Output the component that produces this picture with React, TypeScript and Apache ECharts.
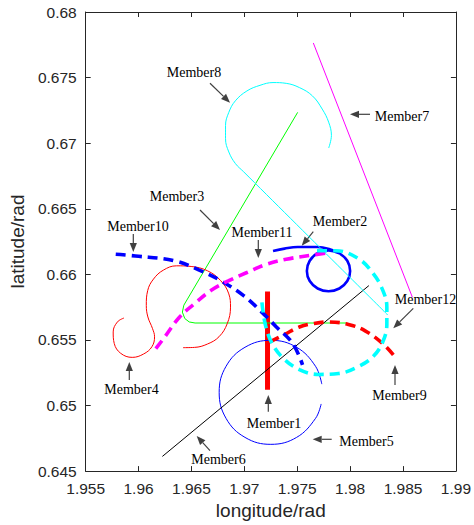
import React, { useEffect, useRef } from "react";
import * as echarts from "echarts";

// ---------- axis ticks ----------
const xTickLabels = ["1.955", "1.96", "1.965", "1.97", "1.975", "1.98", "1.985", "1.99"];
const yTickLabels = ["0.645", "0.65", "0.655", "0.66", "0.665", "0.67", "0.675", "0.68"];

// ---------- trajectories (longitude, latitude) ----------
const member1 = [[1.97219, 0.65869], [1.97219, 0.65121]];

const member2 = [
  [1.97271, 0.66178], [1.9738, 0.66196], [1.97504, 0.66208], [1.9769, 0.66208], [1.97814, 0.6619],
  [1.97898, 0.66161], [1.97973, 0.66104], [1.98, 0.66026], [1.97973, 0.65949], [1.97898, 0.65892],
  [1.97796, 0.65871], [1.97693, 0.65892], [1.97618, 0.65949], [1.97591, 0.66026], [1.97618, 0.66104],
  [1.97693, 0.66161], [1.97796, 0.66182], [1.97898, 0.66161],
];

const member3 = [
  [1.97504, 0.67235], [1.96428, 0.65765], [1.96414, 0.65712], [1.96437, 0.65663],
  [1.96479, 0.65637], [1.96534, 0.65629], [1.97966, 0.65629],
];

const member4 = [
  [1.95862, 0.65667], [1.958, 0.65637], [1.9576, 0.65561], [1.9577, 0.65473], [1.95831, 0.65398],
  [1.9594, 0.65367], [1.96048, 0.65393], [1.96126, 0.65448], [1.96151, 0.65524], [1.96132, 0.65586],
  [1.96088, 0.65675], [1.96073, 0.65763], [1.96086, 0.65876], [1.96141, 0.65964], [1.96234, 0.66032],
  [1.96358, 0.66065], [1.96497, 0.6606], [1.96652, 0.66027], [1.96776, 0.65952], [1.96853, 0.65851],
  [1.96869, 0.6575], [1.96838, 0.65624], [1.9676, 0.65524], [1.96652, 0.65469], [1.96528, 0.65443],
  [1.9642, 0.65441],
];

const member5 = [
  [1.97732, 0.65163], [1.97673, 0.65299], [1.97494, 0.65444], [1.9725, 0.65497], [1.97006, 0.65444],
  [1.96827, 0.65299], [1.96762, 0.65101], [1.96827, 0.64902], [1.97006, 0.64757], [1.9725, 0.64704],
  [1.97494, 0.64757], [1.97673, 0.64902], [1.97726, 0.65012],
];

const member6 = [[1.96225, 0.64612], [1.98177, 0.65914]];

const member7 = [[1.97652, 0.67764], [1.98588, 0.65826]];

const member8 = [
  [1.97797, 0.66963], [1.97823, 0.67059], [1.97797, 0.6716], [1.97736, 0.6726], [1.97643, 0.67361],
  [1.9752, 0.67424], [1.97396, 0.67456], [1.97271, 0.67462], [1.97148, 0.67441], [1.97024, 0.67398],
  [1.96915, 0.67323], [1.96853, 0.67235], [1.96822, 0.67134], [1.96822, 0.67034], [1.96853, 0.66933],
  [1.96915, 0.66845], [1.96993, 0.66782], [1.98356, 0.6569],
];

const member9 = [
  [1.97241, 0.65486], [1.9738, 0.65542], [1.9752, 0.65599], [1.97659, 0.65626], [1.97797, 0.65637],
  [1.97984, 0.65618], [1.98142, 0.65569], [1.98309, 0.65471], [1.98421, 0.65373],
];

const member10 = [
  [1.95784, 0.66153], [1.9597, 0.6614], [1.96342, 0.66103], [1.9659, 0.66027], [1.96776, 0.65952],
  [1.96993, 0.65838], [1.97148, 0.65725], [1.97303, 0.65599], [1.97457, 0.65473], [1.9755, 0.6531],
];

const member11 = [
  [1.96163, 0.65433], [1.96249, 0.65524], [1.96388, 0.65675], [1.96528, 0.65775], [1.96683, 0.65876],
  [1.96853, 0.65952], [1.97024, 0.66014], [1.9721, 0.66077], [1.97396, 0.66115], [1.97582, 0.6614],
  [1.9778, 0.66162],
];

const member12 = [
  [1.97687, 0.6618], [1.97863, 0.6618], [1.98077, 0.6612], [1.98217, 0.66007], [1.98309, 0.65878],
  [1.98347, 0.6575], [1.98347, 0.65622], [1.98309, 0.65486], [1.98217, 0.65373], [1.98077, 0.65297],
  [1.97891, 0.65244], [1.97705, 0.65237], [1.9752, 0.65274], [1.97362, 0.65365], [1.97259, 0.65478],
  [1.97204, 0.65599], [1.97176, 0.6572], [1.97166, 0.65788],
];

const memberNames = [
  "Member1", "Member2", "Member3", "Member4", "Member5", "Member6",
  "Member7", "Member8", "Member9", "Member10", "Member11", "Member12",
];

// ---------- annotation layout (pixels) ----------
const ANNOTATIONS = [
  { text: "Member8", tx: 194, ty: 72.5, a: [210, 83.3, 230, 102.7] },
  { text: "Member7", tx: 402, ty: 116, a: [370, 114.3, 350, 114.3] },
  { text: "Member3", tx: 177, ty: 196, a: [200, 210, 220, 230] },
  { text: "Member2", tx: 340, ty: 221.5, a: [313.3, 231.7, 301.7, 245.7] },
  { text: "Member10", tx: 138, ty: 226, a: [133.3, 234, 133.3, 252] },
  { text: "Member11", tx: 262, ty: 232, a: [258.3, 240, 258.3, 258] },
  { text: "Member12", tx: 425.5, ty: 299, a: [413.3, 308.3, 393.3, 328.3] },
  { text: "Member4", tx: 131.5, ty: 389.7, a: [129.3, 380, 129.3, 362] },
  { text: "Member1", tx: 274, ty: 423, a: [268.3, 411.7, 268.3, 395] },
  { text: "Member9", tx: 399.5, ty: 395.5, a: [395, 385, 395, 365] },
  { text: "Member5", tx: 366.5, ty: 441, a: [331.7, 439.3, 312.7, 439.3] },
  { text: "Member6", tx: 218.5, ty: 459.7, a: [210, 450.7, 196.7, 436] },
];

function arrowGraphic(x1: number, y1: number, x2: number, y2: number) {
  const dx = x2 - x1;
  const dy = y2 - y1;
  const len = Math.hypot(dx, dy);
  const ux = dx / len;
  const uy = dy / len;
  const hl = 9;
  const hw = 3.6;
  const bx = x2 - ux * hl;
  const by = y2 - uy * hl;
  return [
    {
      type: "line",
      shape: { x1, y1, x2: bx, y2: by },
      style: { stroke: "#404040", lineWidth: 1.2 },
      silent: true,
    },
    {
      type: "polygon",
      shape: { points: [[x2, y2], [bx - uy * hw, by + ux * hw], [bx + uy * hw, by - ux * hw]] },
      style: { fill: "#404040" },
      silent: true,
    },
  ];
}

const fmt = (labels: string[], min: number) => (v: number) => {
  const i = Math.round((v - min) / 0.005);
  return labels[i] ?? "";
};

export default function App() {
  const ref = useRef<HTMLDivElement>(null);

  useEffect(() => {
    if (!ref.current) return;
    const chart = echarts.init(ref.current, null, { renderer: "svg" });

    const thin = (name: string, data: number[][], color: string, smooth: number | boolean = false) => ({
      name,
      type: "line",
      data,
      symbol: "none",
      smooth,
      lineStyle: { color, width: 1 },
      silent: true,
    });
    const dashed = (name: string, data: number[][], color: string) => ({
      name,
      type: "line",
      data,
      symbol: "none",
      smooth: 0.4,
      lineStyle: { color, width: 3.6, type: [10, 6] },
      silent: true,
    });

    const series = [
      { name: memberNames[0], type: "line", data: member1, symbol: "none", lineStyle: { color: "#ff0000", width: 5 }, silent: true },
      { name: memberNames[1], type: "line", data: member2, symbol: "none", smooth: 0.4, lineStyle: { color: "#0000ff", width: 2.6 }, silent: true },
      thin(memberNames[2], member3, "#00ff00"),
      thin(memberNames[3], member4, "#ff0000", 0.4),
      thin(memberNames[4], member5, "#0000ff", 0.4),
      thin(memberNames[5], member6, "#000000"),
      thin(memberNames[6], member7, "#ff00ff"),
      thin(memberNames[7], member8, "#00ffff", 0.4),
      dashed(memberNames[8], member9, "#ff0000"),
      dashed(memberNames[9], member10, "#0000ff"),
      dashed(memberNames[10], member11, "#ff00ff"),
      dashed(memberNames[11], member12, "#00ffff"),
    ];

    const graphics: any[] = [];
    ANNOTATIONS.forEach((an) => {
      graphics.push(...arrowGraphic(an.a[0], an.a[1], an.a[2], an.a[3]));
      graphics.push({
        type: "text",
        x: an.tx,
        y: an.ty,
        silent: true,
        style: {
          text: an.text,
          fontSize: 14,
          fontFamily: '"Liberation Serif", "Times New Roman", serif',
          fill: "#000",
          align: "center",
          verticalAlign: "middle",
          textAlign: "center",
          textVerticalAlign: "middle",
        },
      });
    });

    const axisLine = { show: true, onZero: false, lineStyle: { color: "#262626", width: 1 } };
    const axisTick = { show: true, inside: true, length: 5, lineStyle: { color: "#262626", width: 1 } };
    const labelFont = { color: "#262626", fontSize: 15.5, fontFamily: '"Liberation Sans", Arial, sans-serif', margin: 9 };
    const nameFont = { color: "#262626", fontSize: 19, fontFamily: '"Liberation Sans", Arial, sans-serif' };

    chart.setOption({
      animation: false,
      backgroundColor: "#ffffff",
      grid: { left: 82.7, top: 12, width: 376.6, height: 463.5, containLabel: false },
      xAxis: [
        {
          type: "value", min: 1.955, max: 1.99, interval: 0.005, position: "bottom",
          name: "longitude/rad", nameLocation: "middle", nameGap: 27, nameTextStyle: nameFont,
          axisLine, axisTick, splitLine: { show: false },
          axisLabel: { ...labelFont, formatter: fmt(xTickLabels, 1.955), showMinLabel: true, showMaxLabel: true },
        },
        {
          type: "value", min: 1.955, max: 1.99, interval: 0.005, position: "top",
          axisLine, axisTick, splitLine: { show: false }, axisLabel: { show: false },
        },
      ],
      yAxis: [
        {
          type: "value", min: 0.645, max: 0.68, interval: 0.005, position: "left",
          name: "latitude/rad", nameLocation: "middle", nameGap: 56, nameTextStyle: nameFont,
          axisLine, axisTick, splitLine: { show: false },
          axisLabel: { ...labelFont, formatter: fmt(yTickLabels, 0.645), showMinLabel: true, showMaxLabel: true },
        },
        {
          type: "value", min: 0.645, max: 0.68, interval: 0.005, position: "right",
          axisLine, axisTick, splitLine: { show: false }, axisLabel: { show: false },
        },
      ],
      series: series.map((s) => ({ ...s, xAxisIndex: 0, yAxisIndex: 0 })),
      graphic: graphics,
    });

    return () => chart.dispose();
  }, []);

  return (
    <div
      ref={ref}
      style={{ position: "absolute", left: 0, top: 0, width: 474, height: 525, background: "#fff" }}
    />
  );
}
